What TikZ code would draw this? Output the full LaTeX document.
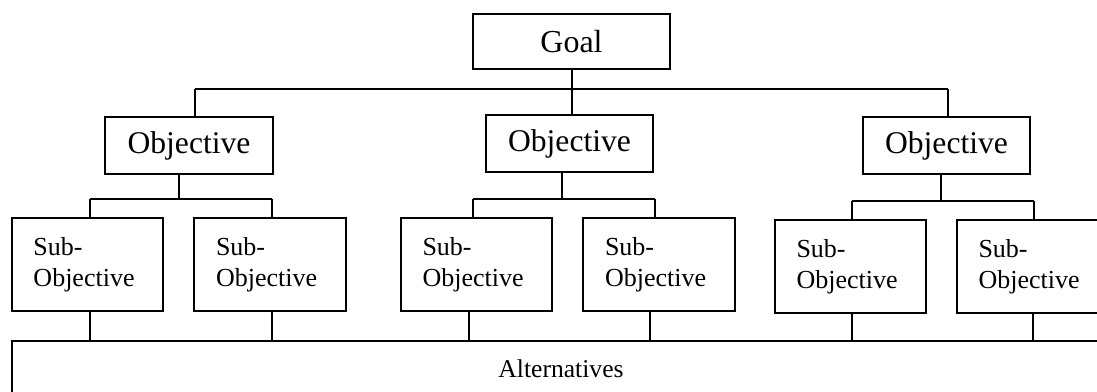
\documentclass[tikz,border=0pt]{standalone}
\usepackage{fontspec}
\setmainfont{Liberation Serif}
\begin{document}
\begin{tikzpicture}[x=0.75pt,y=-0.75pt,
  box/.style={draw=black, line width=1.5pt, rectangle, inner sep=0pt, fill=white},
  goalbox/.style={box, minimum width=147.75pt, minimum height=41.25pt,
    font=\fontsize{24}{28}\selectfont},
  objbox/.style={box, minimum width=125.6pt, minimum height=42.75pt,
    font=\fontsize{23.7}{28}\selectfont},
  subbox/.style={box, minimum width=113.3pt, minimum height=69.75pt,
    align=left, text width=81pt, inner xsep=16.2pt,
    font=\fontsize{19.5}{23.25}\selectfont},
  altbox/.style={box, minimum width=823.5pt, minimum height=41.25pt,
    font=\fontsize{19.2}{23}\selectfont},
  wire/.style={draw=black, line width=1.5pt}]

\useasboundingbox (0,0) rectangle (1097,392);
\fill[white] (0,0) rectangle (1097,392);
\clip (0,0) rectangle (1097,392);

% hierarchy boxes
\node[goalbox] (goal) at (571.5,41.5) {Goal};

\node[objbox] (obj1) at (189,145.5) {Objective};
\node[objbox] (obj2) at (569.5,143.5) {Objective};
\node[objbox] (obj3) at (946.5,145.5) {Objective};

\node[subbox] (sub1) at (87.5,264.5) {Sub-\\Objective};
\node[subbox] (sub2) at (270,264.5) {Sub-\\Objective};
\node[subbox] (sub3) at (476.5,264.5) {Sub-\\Objective};
\node[subbox] (sub4) at (659,264.5) {Sub-\\Objective};
\node[subbox] (sub5) at (850.5,266.5) {Sub-\\Objective};
\node[subbox] (sub6) at (1032.5,266.5) {Sub-\\Objective};

\node[altbox] (alt) at (561,368.5) {Alternatives};

% junction points of the connector buses
\coordinate (b0L) at (195,89);
\coordinate (b0M) at (572,89);
\coordinate (b0R) at (948,89);

\coordinate (b1) at (179,199);
\coordinate (b1L) at (90,199);
\coordinate (b1R) at (272,199);

\coordinate (b2) at (562,199);
\coordinate (b2L) at (473,199);
\coordinate (b2R) at (655,199);

\coordinate (b3) at (941,201);
\coordinate (b3L) at (852,201);
\coordinate (b3R) at (1034,201);

\coordinate (a1) at (90,341);
\coordinate (a2) at (272,341);
\coordinate (a3) at (469,341);
\coordinate (a4) at (650,341);
\coordinate (a5) at (852,341);
\coordinate (a6) at (1033,341);

% goal to objectives
\draw[wire] (goal.south -| b0M) -- (b0M);
\draw[wire] (b0L) -- (b0R);
\draw[wire] (b0L) -- (b0L |- obj1.north);
\draw[wire] (b0M) -- (b0M |- obj2.north);
\draw[wire] (b0R) -- (b0R |- obj3.north);

% objectives to sub-objectives
\draw[wire] (obj1.south -| b1) -- (b1);
\draw[wire] (b1L) -- (b1R);
\draw[wire] (b1L) -- (b1L |- sub1.north);
\draw[wire] (b1R) -- (b1R |- sub2.north);

\draw[wire] (obj2.south -| b2) -- (b2);
\draw[wire] (b2L) -- (b2R);
\draw[wire] (b2L) -- (b2L |- sub3.north);
\draw[wire] (b2R) -- (b2R |- sub4.north);

\draw[wire] (obj3.south -| b3) -- (b3);
\draw[wire] (b3L) -- (b3R);
\draw[wire] (b3L) -- (b3L |- sub5.north);
\draw[wire] (b3R) -- (b3R |- sub6.north);

% sub-objectives to alternatives
\draw[wire] (sub1.south -| a1) -- (a1);
\draw[wire] (sub2.south -| a2) -- (a2);
\draw[wire] (sub3.south -| a3) -- (a3);
\draw[wire] (sub4.south -| a4) -- (a4);
\draw[wire] (sub5.south -| a5) -- (a5);
\draw[wire] (sub6.south -| a6) -- (a6);

\end{tikzpicture}
\end{document}
